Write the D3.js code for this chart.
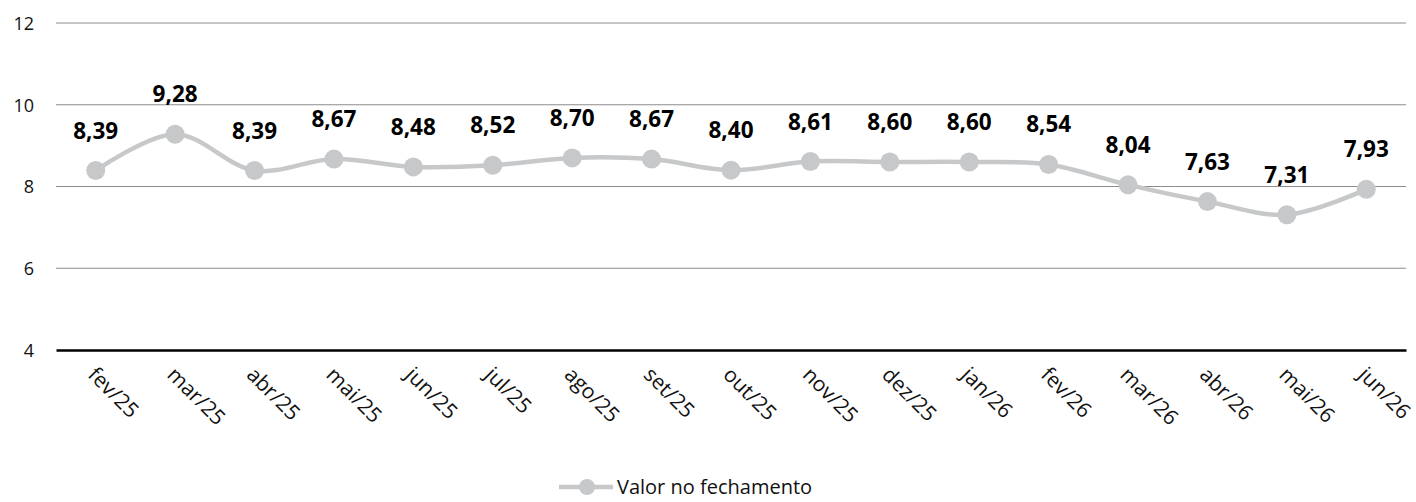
<!DOCTYPE html>
<html>
<head>
<meta charset="utf-8">
<script src="https://cdn.jsdelivr.net/npm/d3@7"></script>
<style>
  body { margin: 0; background: #fff; }
  text { font-family: "Open Sans", sans-serif; }
</style>
</head>
<body>
<div id="chart"></div>
<script>
const months = ['fev/25', 'mar/25', 'abr/25', 'mai/25', 'jun/25', 'jul/25', 'ago/25', 'set/25',
                'out/25', 'nov/25', 'dez/25', 'jan/26', 'fev/26', 'mar/26', 'abr/26', 'mai/26', 'jun/26'];
const values = [8.39, 9.28, 8.39, 8.67, 8.48, 8.52, 8.70, 8.67, 8.40, 8.61, 8.60, 8.60, 8.54, 8.04, 7.63, 7.31, 7.93];
const yTicks = [4, 6, 8, 10, 12];
const seriesName = 'Valor no fechamento';

(function() {
  const width = 1416, height = 502;
  const margin = {top: 23, right: 10, bottom: 152, left: 56};
  const lineColor = '#c6c8ca';

  const svg = d3.select('#chart').append('svg')
    .attr('width', width)
    .attr('height', height);

  const x = d3.scaleBand()
    .domain(months)
    .range([margin.left, width - margin.right]);

  const y = d3.scaleLinear()
    .domain([4, 12])
    .range([height - margin.bottom, margin.top]);

  const fmt = v => v.toFixed(2).replace('.', ',');

  // gridlines
  svg.append('g')
    .selectAll('line')
    .data(yTicks.filter(t => t !== 4))
    .enter().append('line')
      .attr('x1', margin.left)
      .attr('x2', width - margin.right)
      .attr('y1', d => y(d))
      .attr('y2', d => y(d))
      .attr('stroke', '#8c8c8c')
      .attr('stroke-width', 1);

  // y axis labels
  const yAxis = d3.axisLeft(y).tickValues(yTicks).tickSize(0).tickPadding(0);
  svg.append('g')
    .attr('transform', `translate(${margin.left - 22},0)`)
    .call(yAxis)
    .call(g => g.select('.domain').remove())
    .selectAll('text')
      .attr('font-size', 18)
      .attr('fill', '#111')
      .attr('dy', '0.35em')
      .style('font-family', '"Open Sans", sans-serif');

  // x axis baseline + rotated labels
  const xAxis = d3.axisBottom(x).tickSize(0).tickPadding(0);
  const xg = svg.append('g')
    .attr('transform', `translate(0,${y(4)})`)
    .call(xAxis);
  xg.select('.domain')
    .attr('stroke', '#000')
    .attr('stroke-width', 2.5);
  xg.selectAll('text')
    .attr('font-size', 21)
    .attr('fill', '#111')
    .attr('text-anchor', 'start')
    .attr('dy', null)
    .attr('y', 0)
    .attr('transform', 'translate(-9,26) rotate(45)')
    .style('font-family', '"Open Sans", sans-serif');

  const cx = d => x(d) + x.bandwidth() / 2;

  const line = d3.line()
    .x((d, i) => cx(months[i]))
    .y(d => y(d))
    .curve(d3.curveCatmullRom.alpha(0.5));

  svg.append('path')
    .datum(values)
    .attr('d', line)
    .attr('fill', 'none')
    .attr('stroke', lineColor)
    .attr('stroke-width', 4.5);

  svg.append('g')
    .selectAll('circle')
    .data(values)
    .enter().append('circle')
      .attr('cx', (d, i) => cx(months[i]))
      .attr('cy', d => y(d))
      .attr('r', 9.5)
      .attr('fill', lineColor);

  svg.append('g')
    .selectAll('text')
    .data(values)
    .enter().append('text')
      .attr('x', (d, i) => cx(months[i]))
      .attr('y', d => y(d) - 32)
      .attr('text-anchor', 'middle')
      .attr('font-size', 22.5)
      .attr('font-weight', 'bold')
      .attr('fill', '#000')
      .text(fmt);

  // legend
  const lg = svg.append('g').attr('transform', 'translate(559,487)');
  lg.append('line')
    .attr('x1', 0).attr('x2', 54)
    .attr('stroke', lineColor).attr('stroke-width', 4.5);
  lg.append('circle')
    .attr('cx', 28).attr('r', 8)
    .attr('fill', lineColor);
  lg.append('text')
    .attr('x', 58)
    .attr('dy', '0.35em')
    .attr('font-size', 20)
    .attr('fill', '#111')
    .text(seriesName);
})();
</script>
</body>
</html>
